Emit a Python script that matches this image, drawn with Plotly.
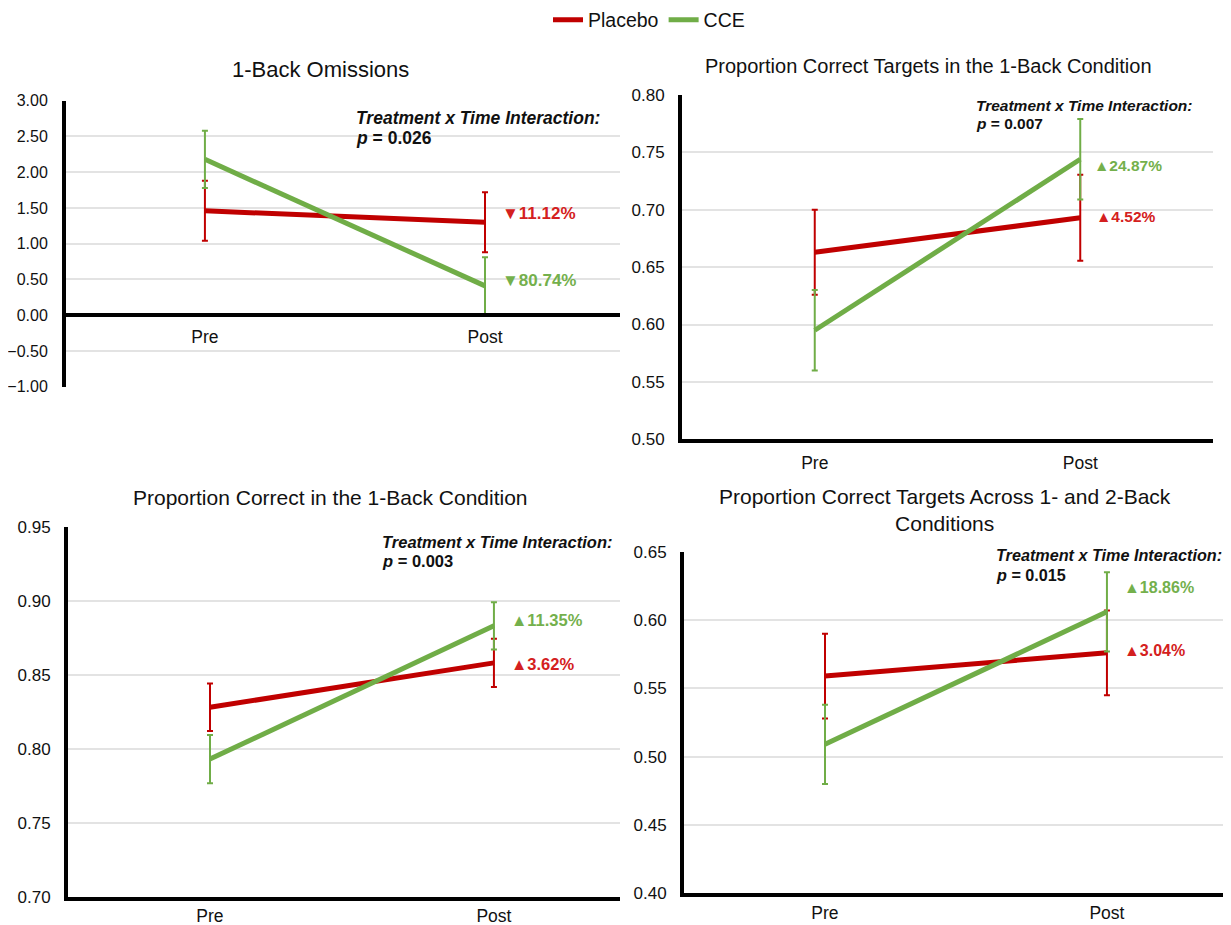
import plotly.graph_objects as go

W, H = 1231, 925
OFF = 8  # the page's default body margin shifts the figure by this many pixels

# ---------------- data ----------------
times = ["Pre", "Post"]
series_names = ["Placebo", "CCE"]

omis_placebo = [1.46, 1.30]
omis_placebo_err = [0.42, 0.42]
omis_cce = [2.18, 0.41]
omis_cce_err = [0.40, 0.40]

pct_tgt1_placebo = [0.663, 0.693]
pct_tgt1_placebo_err = [0.037, 0.0375]
pct_tgt1_cce = [0.595, 0.744]
pct_tgt1_cce_err = [0.035, 0.035]

pc1_placebo = [0.828, 0.858]
pc1_placebo_err = [0.016, 0.0163]
pc1_cce = [0.793, 0.883]
pc1_cce_err = [0.0163, 0.016]

tgt12_placebo = [0.559, 0.576]
tgt12_placebo_err = [0.031, 0.031]
tgt12_cce = [0.509, 0.606]
tgt12_cce_err = [0.029, 0.029]

titles = ["1-Back Omissions",
          "Proportion Correct Targets in the 1-Back Condition",
          "Proportion Correct in the 1-Back Condition",
          "Proportion Correct Targets Across 1- and 2-Back<br>Conditions"]
p_values = ["0.026", "0.007", "0.003", "0.015"]
change_placebo = ["▼11.12%", "▲4.52%", "▲3.62%", "▲3.04%"]
change_cce = ["▼80.74%", "▲24.87%", "▲11.35%", "▲18.86%"]

RED = "#C00000"
GREEN = "#70AD47"
RED_TXT = "#D42020"
GREEN_TXT = "#74B04C"
FONT = "Liberation Sans, Arial, sans-serif"


def px(x):
    return (x - OFF) / W


def py(y):
    return 1 - (y - OFF) / H


fig = go.Figure()

panels = [
    dict(data=(omis_placebo, omis_placebo_err, omis_cce, omis_cce_err),
         xdom=(66, 620), xr=(-0.496, 1.482), ydom=(386.7, 100.7), yr=(-1.0, 3.0), dtick=0.5,
         title_xy=(320, 70), title_size=22, ytick_size=16, ystand=11,
         p_xy=(354, 118, 138), p_size=17.5, xstand=5,
         lab_red=(500, 214), lab_green=(500, 280.5), lab_size=17),
    dict(data=(pct_tgt1_placebo, pct_tgt1_placebo_err, pct_tgt1_cce, pct_tgt1_cce_err),
         xdom=(682, 1213), xr=(-0.5, 1.5), ydom=(439.3, 95), yr=(0.5, 0.8), dtick=0.05,
         title_xy=(928, 66), title_size=20, ytick_size=17, ystand=10,
         p_xy=(974, 105, 123.5), p_size=15.5, xstand=5,
         lab_red=(1094, 216.5), lab_green=(1092, 165), lab_size=15.5),
    dict(data=(pc1_placebo, pc1_placebo_err, pc1_cce, pc1_cce_err),
         xdom=(68, 620), xr=(-0.5, 1.444), ydom=(896.7, 526.7), yr=(0.70, 0.95), dtick=0.05,
         title_xy=(330, 497), title_size=21, ytick_size=17, ystand=10,
         p_xy=(380, 541.5, 561), p_size=16.5, xstand=0,
         lab_red=(509, 664), lab_green=(509, 620), lab_size=16.5),
    dict(data=(tgt12_placebo, tgt12_placebo_err, tgt12_cce, tgt12_cce_err),
         xdom=(684, 1231), xr=(-0.5, 1.44), ydom=(893.3, 551.7), yr=(0.40, 0.65), dtick=0.05,
         title_xy=(945, 510), title_size=21, ytick_size=17, ystand=10,
         p_xy=(994, 555, 574.5), p_size=16.2, xstand=1,
         lab_red=(1122, 650.5), lab_green=(1122, 587.5), lab_size=16),
]

annotations = []
layout_axes = {}
for i, p in enumerate(panels):
    n = i + 1
    xa = "x" if n == 1 else f"x{n}"
    ya = "y" if n == 1 else f"y{n}"
    pl, ple, cc, cce = p["data"]
    for name, vals, errs, col in [(series_names[0], pl, ple, RED),
                                   (series_names[1], cc, cce, GREEN)]:
        fig.add_trace(go.Scatter(
            x=times, y=vals, mode="lines", name=name,
            line=dict(color=col, width=5),
            error_y=dict(type="data", array=errs, visible=True,
                         color=col, thickness=2, width=3),
            xaxis=xa, yaxis=ya, showlegend=(n == 1), legendgroup=name))

    y0, y1 = p["ydom"]
    ydom = [py(y0), py(y1)]
    xaxis = dict(domain=[max(0, px(p["xdom"][0])), min(1, px(p["xdom"][1]))],
                 range=list(p["xr"]), type="category",
                 showgrid=False, zeroline=False,
                 showline=True, linecolor="black", linewidth=4,
                 ticks="", ticklabelstandoff=p["xstand"], automargin=False,
                 tickfont=dict(family=FONT, size=17.5, color="#111"),
                 anchor=ya, fixedrange=True)
    if n == 4:
        # domain clipped at the right edge: shrink the range accordingly
        full = p["xdom"][1] - p["xdom"][0]
        shown = (xaxis["domain"][1] - xaxis["domain"][0]) * W
        a, b = p["xr"]
        xaxis["range"] = [a, a + (b - a) * shown / full]
    if n == 1:
        # x axis sits at y = 0
        yr = p["yr"]
        frac = (0 - yr[0]) / (yr[1] - yr[0])
        xaxis["anchor"] = "free"
        xaxis["position"] = ydom[0] + frac * (ydom[1] - ydom[0])
    yaxis = dict(domain=ydom, range=list(p["yr"]), dtick=p["dtick"],
                 tick0=p["yr"][0], tickformat=".2f",
                 showgrid=True, gridcolor="#e3e3e3", gridwidth=1.5,
                 zeroline=False, showline=True, linecolor="black", linewidth=4,
                 ticks="", ticklabelstandoff=p["ystand"], automargin=False,
                 tickfont=dict(family=FONT, size=p["ytick_size"], color="#111"),
                 anchor=xa, fixedrange=True)
    layout_axes["xaxis" if n == 1 else f"xaxis{n}"] = xaxis
    layout_axes["yaxis" if n == 1 else f"yaxis{n}"] = yaxis

    tx, tyy = p["title_xy"]
    annotations.append(dict(text=titles[i], x=px(tx), y=py(tyy), xref="paper", yref="paper",
                            xanchor="center", yanchor="middle", showarrow=False,
                            font=dict(family=FONT, size=p["title_size"], color="#111")))
    ax, ay1, ay2 = p["p_xy"]
    annotations.append(dict(text="<b><i>Treatment x Time Interaction:</i></b>",
                            x=px(ax), y=py(ay1), xref="paper", yref="paper",
                            xanchor="left", yanchor="middle", showarrow=False,
                            font=dict(family=FONT, size=p["p_size"], color="#111")))
    annotations.append(dict(text=f"<b><i>p</i> = {p_values[i]}</b>",
                            x=px(ax), y=py(ay2), xref="paper", yref="paper",
                            xanchor="left", yanchor="middle", showarrow=False,
                            font=dict(family=FONT, size=p["p_size"], color="#111")))
    for lab, (lx, ly), col in [(change_placebo[i], p["lab_red"], RED_TXT),
                               (change_cce[i], p["lab_green"], GREEN_TXT)]:
        annotations.append(dict(text=f"<b>{lab}</b>", x=px(lx), y=py(ly),
                                xref="paper", yref="paper",
                                xanchor="left", yanchor="middle", showarrow=False,
                                font=dict(family=FONT, size=p["lab_size"], color=col)))

fig.update_layout(
    width=W, height=H,
    margin=dict(l=0, r=0, t=0, b=0, pad=0, autoexpand=False),
    paper_bgcolor="white", plot_bgcolor="white",
    showlegend=True,
    legend=dict(orientation="h", x=px(649), xanchor="center", y=py(20), yanchor="middle",
                font=dict(family=FONT, size=19.5, color="#111"),
                itemwidth=30, tracegroupgap=0, bgcolor="rgba(0,0,0,0)"),
    annotations=annotations,
    **layout_axes,
)

fig.write_html("out.html")
